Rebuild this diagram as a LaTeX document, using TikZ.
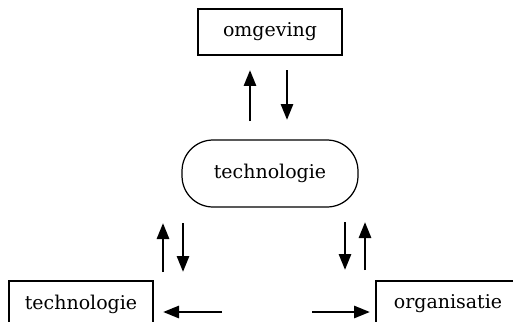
\documentclass[tikz,border=0pt]{standalone}
\usepackage{fontspec}
\setmainfont{DejaVu Serif}
\usetikzlibrary{arrows.meta}
\tikzset{
  blok/.style={draw, line width=0.7pt, minimum width=2.88cm, minimum height=0.92cm, inner sep=0pt, font=\fontsize{10.8}{13}\selectfont},
  rond/.style={draw, line width=0.7pt, rounded corners=0.62cm, minimum width=3.52cm, minimum height=1.34cm, inner sep=0pt, font=\fontsize{10.8}{13}\selectfont},
  pijl/.style={line width=1.6pt, -{Triangle[length=0.32cm, width=0.24cm]}},
}

\begin{document}
\begin{tikzpicture}[x=0.02cm, y=-0.02cm]
\clip (0,0) rectangle (513,321);
% blokken
\node[blok] (omg) at (270,32) {omgeving};
\node[rond] (tech) at (270,173.5) {technologie};
\node[blok] (techl) at (81,304) {technologie};
\node[blok] (org) at (448,304) {organisatie};
% pijlen
\coordinate (o1) at (250,121); \coordinate (o2) at (250,70);
\coordinate (o3) at (287,70);  \coordinate (o4) at (287,120);
\coordinate (l1) at (163,272); \coordinate (l2) at (163,223);
\coordinate (l3) at (183,223); \coordinate (l4) at (183,272);
\coordinate (r1) at (345,222); \coordinate (r2) at (345,270);
\coordinate (r3) at (365,270); \coordinate (r4) at (365,222);
\coordinate (h1) at (222,312); \coordinate (h2) at (163,312);
\coordinate (h3) at (312,312); \coordinate (h4) at (370,312);
\draw[pijl] (o1) -- (o2);
\draw[pijl] (o3) -- (o4);
\draw[pijl] (l1) -- (l2);
\draw[pijl] (l3) -- (l4);
\draw[pijl] (r1) -- (r2);
\draw[pijl] (r3) -- (r4);
\draw[pijl] (h1) -- (h2);
\draw[pijl] (h3) -- (h4);
\end{tikzpicture}
\end{document}
